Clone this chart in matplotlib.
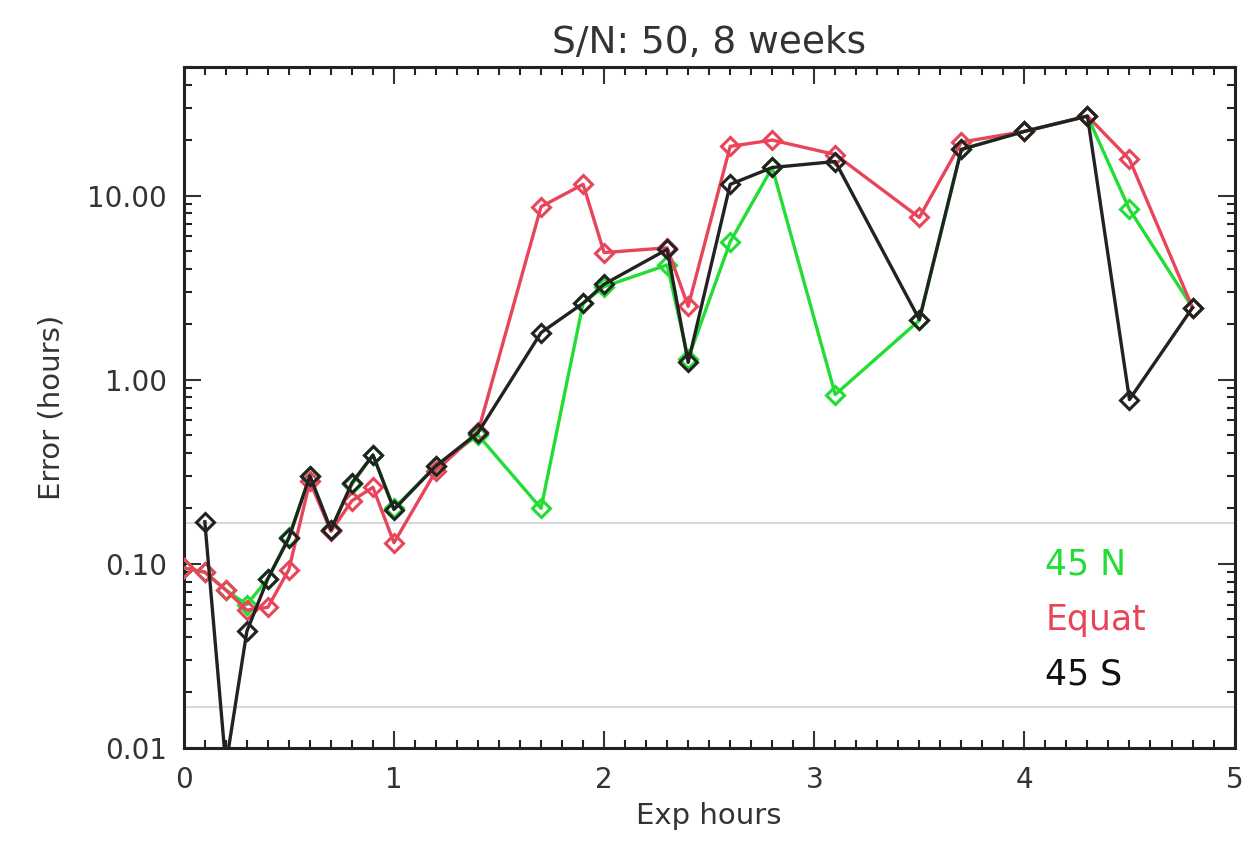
import matplotlib
matplotlib.use("Agg")
import matplotlib.pyplot as plt
import matplotlib.ticker as mticker

# exposure hours and errors (hours)
hours = [0.0, 0.1, 0.2, 0.3, 0.4, 0.5, 0.6, 0.7, 0.8, 0.9, 1.0, 1.2, 1.4, 1.7,
         1.9, 2.0, 2.3, 2.4, 2.6, 2.8, 3.1, 3.5, 3.7, 4.0, 4.3, 4.5, 4.8]

err_45n = [0.095, 0.09, 0.072, 0.060, 0.083, 0.14, 0.30, 0.153, 0.27, 0.39,
           0.20, 0.34, 0.50, 0.20, 2.6, 3.2, 4.2, 1.3, 5.6, 14.2, 0.83, 2.1,
           17.8, 22.3, 27.0, 8.4, 2.46]
err_equat = [0.095, 0.09, 0.072, 0.056, 0.058, 0.093, 0.28, 0.15, 0.22, 0.26,
             0.13, 0.32, 0.52, 8.7, 11.5, 4.9, 5.2, 2.5, 18.5, 20.0, 16.7, 7.6,
             19.5, 22.3, 27.0, 15.7, 2.46]
hours_45s = hours[1:]
err_45s = [0.169, 0.008, 0.043, 0.083, 0.138, 0.30, 0.153, 0.275, 0.39,
           0.197, 0.34, 0.515, 1.8, 2.6, 3.3, 5.1, 1.24, 11.5, 14.2, 15.3,
           2.12, 17.8, 22.3, 27.0, 0.78, 2.46]

ref_levels = [1.0 / 6.0, 1.0 / 60.0]   # 10 min and 1 min

green = "#22dd33"
red = "#e8455a"
black = "#222222"

fig = plt.figure(figsize=(12.42, 8.46), dpi=100)
ax = fig.add_axes([0.148, 0.116, 0.846, 0.805])

for lev in ref_levels:
    ax.axhline(lev, color="#d8d8d8", lw=1.5, zorder=1)

style = dict(marker="D", markersize=9, fillstyle="none", mew=2.2, lw=2.4)
ax.plot(hours, err_45n, color=green, zorder=3, **style)
ax.plot(hours, err_equat, color=red, zorder=4, **style)
ax.plot(hours_45s, err_45s, color=black, zorder=5, **style)

ax.set_yscale("log")
ax.set_xlim(0, 5)
ax.set_ylim(0.01, 50)
ax.set_yticks([0.01, 0.1, 1, 10])
ax.yaxis.set_major_formatter(mticker.FormatStrFormatter("%.2f"))
ax.yaxis.set_minor_locator(mticker.LogLocator(base=10, subs=range(2, 10)))
ax.yaxis.set_minor_formatter(mticker.NullFormatter())
ax.set_xticks([0, 1, 2, 3, 4, 5])
ax.xaxis.set_minor_locator(mticker.MultipleLocator(0.1))

ax.tick_params(which="both", direction="in", top=True, right=True,
               color="#222222", width=1.5)
ax.tick_params(which="major", length=12, labelsize=20, colors="#333333")
ax.tick_params(which="minor", length=6)
ax.tick_params(axis="x", which="major", pad=13)
ax.tick_params(axis="y", which="major", pad=12)
for sp in ax.spines.values():
    sp.set_linewidth(2.2)
    sp.set_color("#222222")

ax.set_title("S/N: 50, 8 weeks", fontsize=27, color="#333333", pad=10)
ax.set_xlabel("Exp hours", fontsize=21, color="#333333", labelpad=6)
ax.set_ylabel("Error (hours)", fontsize=21, color="#333333", labelpad=16)

ax.text(0.82, 0.269, "45 N", color=green, fontsize=25, transform=ax.transAxes,
        va="center", ha="left")
ax.text(0.82, 0.188, "Equat", color=red, fontsize=25, transform=ax.transAxes,
        va="center", ha="left")
ax.text(0.82, 0.107, "45 S", color="#111111", fontsize=25,
        transform=ax.transAxes, va="center", ha="left")

fig.savefig("out.png", dpi=100)
